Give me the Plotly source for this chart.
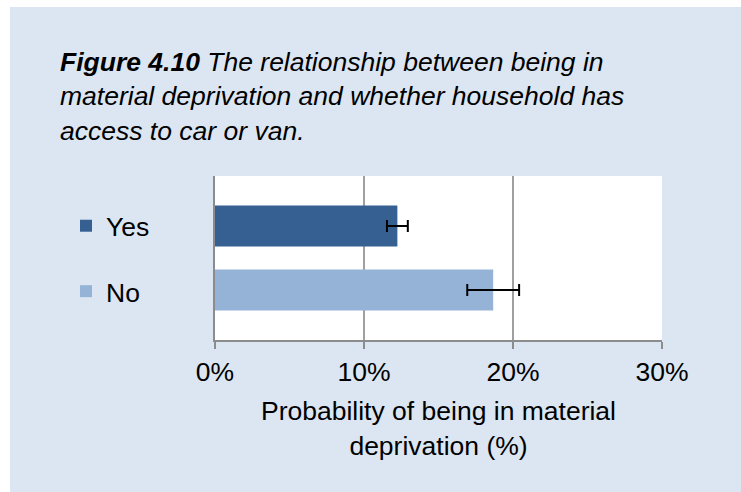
import plotly.graph_objects as go

# ---- data ----
categories = ["Yes", "No"]
probability = [0.1224, 0.1867]
error_margin = [0.0070, 0.0174]
bar_colors = ["#376092", "#95b3d7"]
x_ticks = [0, 0.1, 0.2, 0.3]
x_tick_labels = ["0%", "10%", "20%", "30%"]

title_lines = [
    "<b>Figure 4.10</b> The relationship between being in",
    "material deprivation and whether household has",
    "access to car or van.",
]
x_title = "Probability of being in material<br>deprivation (%)"

W, H = 741, 492
L, R, T, B = 215, 662, 176, 340
FONT = "Liberation Sans, Arial, sans-serif"
BG = "#dce6f2"
FS = 26.5


def px2x(px):
    return (px - L) / (R - L)


def px2y(py):
    return (B - py) / (B - T)


fig = go.Figure()
for i, cat in enumerate(categories):
    fig.add_trace(go.Bar(
        y=[cat], x=[probability[i]], orientation="h",
        name=cat, legendgroup=cat,
        marker=dict(color=bar_colors[i], line=dict(width=0)),
        width=0.64,
        error_x=dict(type="data", array=[error_margin[i]], color="black",
                     thickness=2, width=6),
    ))

fig.update_layout(
    width=W, height=H,
    margin=dict(l=L, r=W - R, t=T, b=H - B, pad=0),
    paper_bgcolor=BG, plot_bgcolor="white",
    barmode="overlay",
    font=dict(family=FONT, size=FS, color="black"),
    showlegend=True,
    legend=dict(x=px2x(66), xanchor="left", y=px2y(202), yanchor="top",
                bgcolor="rgba(0,0,0,0)", borderwidth=0,
                traceorder="grouped", tracegroupgap=28,
                font=dict(size=FS, color="black")),
    xaxis=dict(range=[0, 0.3], tickvals=x_ticks, ticktext=x_tick_labels,
               showgrid=True, gridcolor="#a0a0a0", gridwidth=2,
               showline=True, linecolor="#8c8c8c", linewidth=2,
               ticks="outside", ticklen=7, tickwidth=2, tickcolor="#8c8c8c",
               zeroline=False,
               tickfont=dict(size=FS, color="black"),
               title=dict(text=x_title, font=dict(size=FS, color="black"),
                          standoff=16)),
    yaxis=dict(categoryorder="array", categoryarray=["No", "Yes"],
               range=[-0.78, 1.78], showticklabels=False, showgrid=False,
               showline=True, linecolor="#8c8c8c", linewidth=2,
               zeroline=False, ticks=""),
    annotations=[dict(
        text="<i>" + "<br>".join(title_lines) + "</i>",
        xref="paper", yref="paper", x=px2x(58), y=px2y(45),
        xanchor="left", yanchor="top", align="left", showarrow=False,
        font=dict(size=FS, color="black", family=FONT),
    )],
    shapes=[
        dict(type="rect", xref="paper", yref="paper",
             x0=px2x(-2), x1=px2x(10), y0=px2y(H + 2), y1=px2y(-2),
             fillcolor="white", line=dict(width=0), layer="above"),
        dict(type="rect", xref="paper", yref="paper",
             x0=px2x(-2), x1=px2x(W + 2), y0=px2y(7), y1=px2y(-2),
             fillcolor="white", line=dict(width=0), layer="above"),
    ],
)

fig.write_html(
    "out.html",
    config={"displayModeBar": False},
    post_script=("document.body.style.margin='0';"
                 "document.body.style.overflow='hidden';"
                 "document.body.style.background='" + BG + "';"
                 "document.documentElement.style.background='" + BG + "';"),
)
